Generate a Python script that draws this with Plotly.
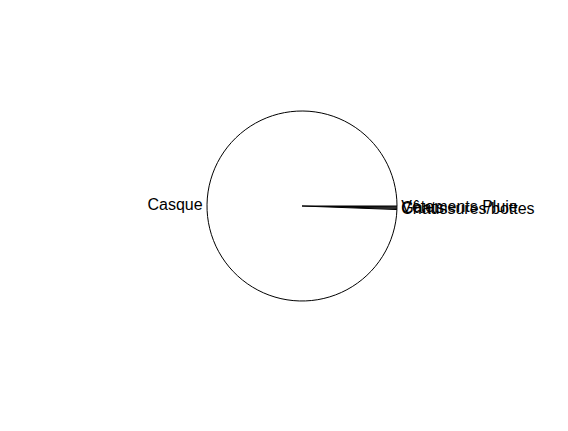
import plotly.graph_objs as go

# Equipment categories and counts
labels = ['Vêtements Pluie', 'Gants', 'Chaussures/bottes', 'Casque']
values = [1, 1, 1, 500]

# which slice labels each layer shows (labels are drawn on separate layers so they stack like the original)
label_layers = [
    ['outside', 'none', 'none', 'outside'],
    ['none', 'outside', 'none', 'none'],
    ['none', 'none', 'outside', 'none'],
]

fig = go.Figure()

for i, positions in enumerate(label_layers):
    if i == 0:
        marker = dict(colors=['white'] * len(labels), line=dict(color='black', width=1))
    else:
        marker = dict(colors=['rgba(0,0,0,0)'] * len(labels), line=dict(width=0))
    fig.add_trace(go.Pie(
        labels=labels,
        values=values,
        sort=False,
        direction='clockwise',
        rotation=90,
        textinfo='label',
        textposition=positions,
        marker=marker,
        outsidetextfont=dict(color='black', size=16, family='Liberation Sans, Arial'),
        hoverinfo='label+value+percent' if i == 0 else 'skip',
    ))

fig.update_layout(
    width=568,
    height=431,
    showlegend=False,
    paper_bgcolor='white',
    margin=dict(l=199, r=179, t=103, b=138),
)

fig.write_html("out.html")
